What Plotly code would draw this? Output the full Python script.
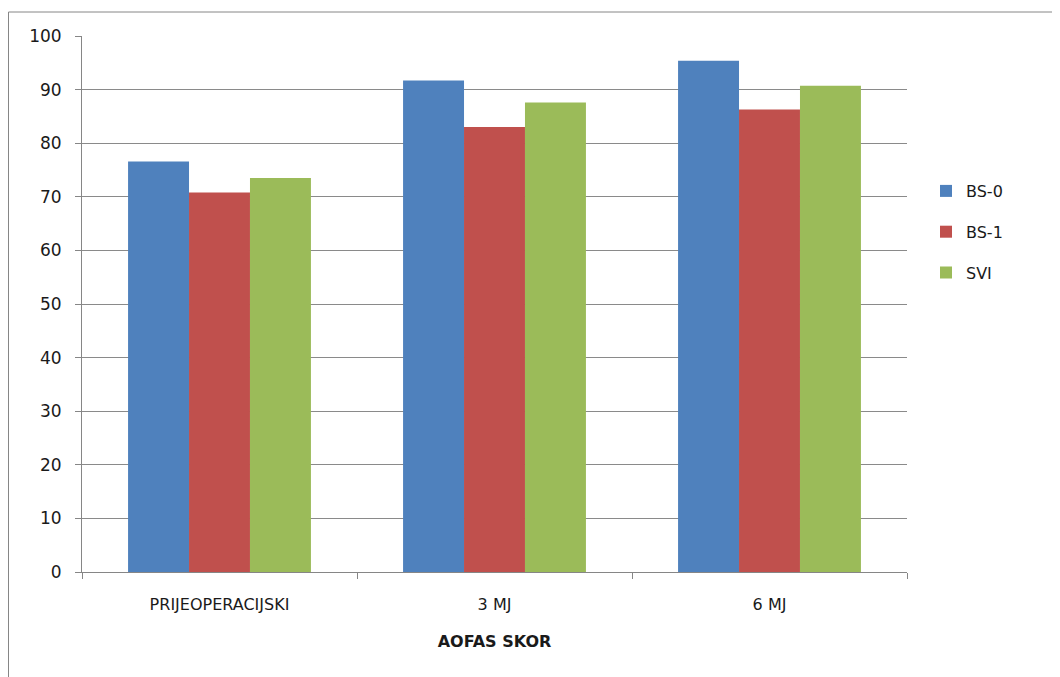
import plotly.graph_objects as go

categories = ["PRIJEOPERACIJSKI", "3 MJ", "6 MJ"]
series_names = ["BS-0", "BS-1", "SVI"]
bs0 = [76.6, 91.7, 95.4]
bs1 = [70.8, 83.0, 86.3]
svi = [73.5, 87.6, 90.7]
colors = ["#4F81BD", "#C0504D", "#9BBB59"]
y_ticks = [0, 10, 20, 30, 40, 50, 60, 70, 80, 90, 100]

fig = go.Figure()
for name, vals, col in zip(series_names, [bs0, bs1, svi], colors):
    fig.add_trace(go.Bar(
        x=categories, y=vals, name=name, legendgroup=name,
        marker=dict(color=col, line=dict(width=0)),
    ))

# page body has an 8px margin, so the figure is drawn 8px smaller
OFF = 8
W, H = 1060 - OFF, 677 - OFF
ml, mr, mt, mb = 82 - OFF, 153, 36 - OFF, 105
pw, ph = W - ml - mr, H - mt - mb

fig.update_layout(
    width=W, height=H,
    margin=dict(l=ml, r=mr, t=mt, b=mb),
    barmode="group", bargap=0.335, bargroupgap=0,
    paper_bgcolor="white", plot_bgcolor="white",
    font=dict(family="DejaVu Sans, sans-serif", size=16, color="#1a1a1a"),
    legend=dict(x=(926 - OFF - ml) / pw, y=1 - (174 - 36) / 536, xanchor="left", yanchor="top",
                font=dict(size=16), traceorder="grouped", tracegroupgap=17,
                itemwidth=30, bgcolor="rgba(0,0,0,0)"),
    showlegend=True,
)
fig.update_xaxes(
    showline=True, linecolor="#868686", linewidth=1,
    ticks="outside", ticklen=6, tickcolor="#868686", tickson="boundaries",
    ticklabelstandoff=18,
    showgrid=False,
    title=dict(text="<b>AOFAS SKOR</b>", font=dict(size=16), standoff=22),
    tickfont=dict(size=16),
)
fig.update_yaxes(
    range=[0, 100], tickvals=y_ticks, showline=True, linecolor="#868686", linewidth=1,
    ticks="outside", ticklen=6, tickcolor="#868686", ticklabelstandoff=10,
    showgrid=True, gridcolor="#8a8a8a", gridwidth=1, zeroline=False,
    tickfont=dict(size=17),
)
# outer chart frame (partially visible)
fig.add_shape(type="rect", xref="paper", yref="paper",
              x0=(0.5 - ml) / pw, x1=2, y0=-1, y1=1 + (36 - 12) / 536,
              line=dict(color="#868686", width=1), layer="below")

fig.write_html("out.html")
